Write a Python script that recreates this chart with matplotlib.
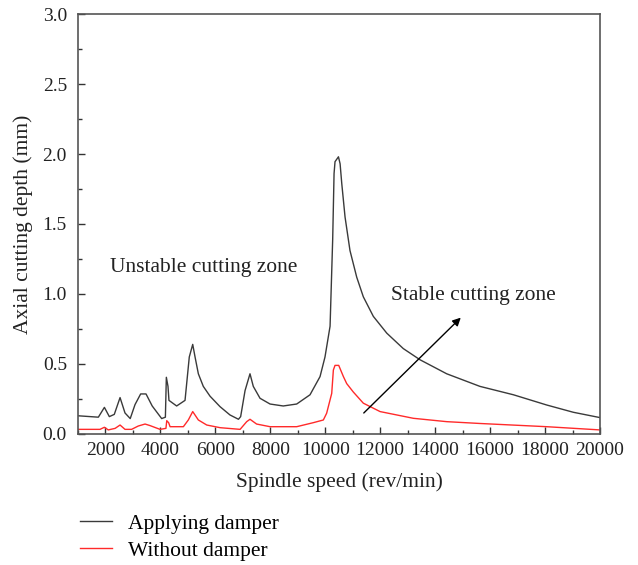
import matplotlib
matplotlib.use("Agg")
import matplotlib.pyplot as plt
from matplotlib.ticker import MultipleLocator, FormatStrFormatter

plt.rcParams['font.family'] = ['Liberation Serif', 'DejaVu Serif']

speed_damper = [1000, 1740, 1960, 2140, 2320, 2530, 2710, 2900, 3075, 3280, 3475, 3700,
                4045, 4180, 4215, 4275, 4310, 4590, 4895, 5050, 5175, 5260, 5380, 5560,
                5805, 6170, 6530, 6840, 6920, 7080, 7260, 7380, 7625, 7990, 8470, 8960,
                9445, 9810, 9990, 10175, 10270, 10320, 10355, 10480, 10540, 10600, 10720,
                10900, 11145, 11385, 11750, 12240, 12840, 13450, 14420, 15630, 16850,
                18060, 19030, 20000]
depth_damper = [0.13, 0.12, 0.19, 0.124, 0.14, 0.26, 0.15, 0.11, 0.21, 0.286, 0.286, 0.2,
                0.11, 0.12, 0.405, 0.34, 0.24, 0.2, 0.24, 0.55, 0.64, 0.55, 0.43, 0.34,
                0.27, 0.195, 0.136, 0.105, 0.124, 0.31, 0.43, 0.34, 0.255, 0.214, 0.2, 0.214,
                0.28, 0.41, 0.55, 0.77, 1.39, 1.86, 1.945, 1.98, 1.93, 1.79, 1.55,
                1.31, 1.12, 0.98, 0.84, 0.72, 0.61, 0.53, 0.43, 0.34, 0.28,
                0.207, 0.155, 0.117]

speed_nodamp = [1000, 1800, 1960, 2100, 2350, 2530, 2710, 2950, 3195, 3440, 3620, 3985,
                4200, 4230, 4300, 4350, 4835, 5015, 5175, 5380, 5685, 6170, 6900, 7140,
                7260, 7500, 7990, 8960, 9570, 9930, 10050, 10235, 10295, 10355, 10490,
                10660, 10780, 11020, 11385, 11995, 13205, 14420, 15630, 18060, 20000]
depth_nodamp = [0.033, 0.033, 0.048, 0.029, 0.04, 0.064, 0.033, 0.033, 0.057, 0.071, 0.06, 0.033,
                0.04, 0.095, 0.08, 0.052, 0.052, 0.1, 0.16, 0.1, 0.064, 0.045, 0.033, 0.088,
                0.105, 0.071, 0.052, 0.052, 0.081, 0.1, 0.148, 0.29, 0.457, 0.49, 0.49,
                0.41, 0.36, 0.3, 0.22, 0.16, 0.112, 0.088, 0.075, 0.052, 0.029]

fig = plt.figure(figsize=(6.38, 5.65), dpi=100)
ax = fig.add_axes([0.1223, 0.2319, 0.8181, 0.7433])

l1, = ax.plot(speed_damper, depth_damper, color='#3a3a3a', lw=1.0, label='Applying damper')
l2, = ax.plot(speed_nodamp, depth_nodamp, color='#ff2a2a', lw=1.0, label='Without damper')

ax.set_xlim(1000, 20000)
ax.set_ylim(0, 3.0)
ax.xaxis.set_major_locator(MultipleLocator(2000))
ax.xaxis.set_minor_locator(MultipleLocator(1000))
ax.yaxis.set_major_locator(MultipleLocator(0.5))
ax.yaxis.set_minor_locator(MultipleLocator(0.25))
ax.yaxis.set_major_formatter(FormatStrFormatter('%.1f'))
ax.tick_params(which='both', direction='in', top=False, right=False, labelsize=14,
               color='#333333', labelcolor='#222222')
ax.tick_params(axis='y', which='major', pad=8)
ax.tick_params(axis='x', which='major', pad=6)
ax.tick_params(which='major', length=5, width=1)
ax.tick_params(which='minor', length=3, width=1)
for s in ax.spines.values():
    s.set_color('#555555')
    s.set_linewidth(1.2)

ax.set_xlabel('Spindle speed (rev/min)', fontsize=15.5, color='#222222')
ax.set_ylabel('Axial cutting depth (mm)', fontsize=15.5, color='#222222')
ax.xaxis.set_label_coords(0.5, -0.09)
ax.yaxis.set_label_coords(-0.087, 0.5)

ax.text(2150, 1.19, 'Unstable cutting zone', fontsize=15.5, color='#222222', va='center', ha='left')
ax.text(12400, 0.99, 'Stable cutting zone', fontsize=15.5, color='#222222', va='center', ha='left')
ax.annotate('', xy=(15005, 0.845), xytext=(11330, 0.136),
            arrowprops=dict(arrowstyle='-|>', color='black', lw=1.0, mutation_scale=12))

fig.legend(handles=[l1, l2], loc='upper left', bbox_to_anchor=(0.125, 0.091),
           frameon=False, fontsize=15.5, handlelength=1.5, handletextpad=0.75,
           labelspacing=0.33, borderaxespad=0, borderpad=0)

fig.savefig('out.png', dpi=100)
